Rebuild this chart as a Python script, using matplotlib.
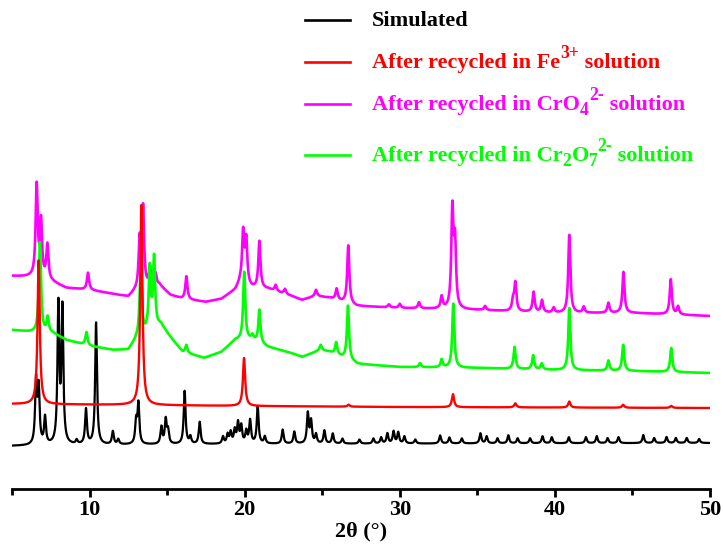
import numpy as np
import matplotlib
matplotlib.use("Agg")
import matplotlib.pyplot as plt
from matplotlib.lines import Line2D

plt.rcParams['font.family'] = ['Liberation Serif', 'DejaVu Serif']
plt.rcParams['font.weight'] = 'bold'

# ---- Simulated pattern (peak list) ----
sim_pos = [6.55, 6.72, 7.13, 7.99, 8.25, 9.17, 9.77, 10.42, 11.5, 11.85, 13.0, 13.15,
           14.63, 14.91, 15.06, 16.13, 16.5, 17.1, 18.6, 18.9, 19.1, 19.36, 19.57, 19.78,
           20.1, 20.35, 20.84, 21.3, 22.45, 23.2, 24.07, 24.28, 24.6, 25.14, 25.68, 26.3,
           27.4, 28.3, 28.8, 29.2, 29.6, 29.9, 30.3, 31.0, 32.6, 33.2, 34.0, 35.2, 35.6,
           36.3, 37.0, 37.6, 38.4, 39.2, 39.8, 40.9, 42.0, 42.7, 43.4, 44.1, 45.7, 46.4,
           47.2, 47.8, 48.5, 49.3]
sim_int = [63, 55, 27, 138, 134, 4, 35, 122, 13, 5, 22, 40,
           17, 24, 13, 53, 7, 22, 7, 9, 11, 13, 20, 17,
           12, 23, 37, 7, 14, 12, 30, 22, 9, 13, 10, 5,
           4, 5, 6, 10, 12, 11, 7, 4, 8, 6, 5, 10, 7,
           5, 8, 5, 5, 7, 6, 6, 6, 7, 5, 6, 8, 5,
           6, 5, 5, 4]
sim_bg_pos = [5, 10, 20, 50]
sim_bg = [43, 44, 45, 46]

# ---- After recycling in Fe3+ ----
fe_pos = [6.72, 13.34, 19.96, 26.7, 33.43, 37.45, 40.93, 44.4, 47.5]
fe_int = [144, 200, 48, 2, 13, 4, 6, 3, 2]
fe_bg_pos = [5, 13, 20, 30, 50]
fe_bg = [85, 84, 83, 82, 81]

# ---- After recycling in CrO4 2- ----
cro4_pos = [6.59, 6.87, 7.28, 9.9, 13.23, 13.45, 13.9, 14.25, 16.24, 19.9, 20.1, 20.95,
            22.0, 22.6, 24.6, 25.93, 26.68, 29.3, 30.0, 31.24, 32.7, 33.39, 33.56, 35.5,
            37.3, 37.45, 38.63, 39.17, 39.92, 40.93, 41.86, 43.45, 44.42, 47.47, 47.94]
cro4_int = [92, 56, 35, 17, 48, 80, 18, 12, 23, 51, 44, 47,
            6, 5, 6, 11, 58, 3, 4, 6, 12, 97, 63, 4,
            10, 28, 20, 12, 5, 78, 6, 10, 41, 35, 8]
cro4_bg_pos = [5, 6.2, 7.6, 8.5, 10, 11.5, 12.5, 12.9, 14.5, 15.2, 16, 17.5, 18.5, 19.4,
               19.7, 20.5, 21.5, 23, 23.7, 24.6, 25.5, 27.2, 30, 35, 40, 45, 50]
cro4_bg = [213, 212, 207, 201, 199, 195, 192, 197, 204, 194, 190, 187, 190, 199,
           206, 201, 200, 193, 189, 193, 191, 183, 181, 179, 176, 176, 173]

# ---- After recycling in Cr2O7 2- ----
cr2o7_pos = [6.8, 7.3, 9.8, 13.3, 13.88, 14.16, 16.24, 19.97, 20.5, 20.95, 24.9, 25.9,
             26.66, 31.3, 32.7, 33.45, 37.4, 38.6, 39.15, 40.93, 43.45, 44.4, 47.5]
cr2o7_int = [90, 15, 13, 76, 62, 70, 8, 68, 4, 33, 5, 12,
             54, 4, 8, 64, 22, 14, 6, 62, 10, 26, 24]
cr2o7_bg_pos = [5, 6.2, 7.6, 8.5, 10, 11.5, 12.5, 13, 14.6, 15.2, 16, 17.4, 18.5, 19.4,
                20.5, 21.5, 23, 23.7, 24.9, 25.5, 27.3, 30, 35, 40, 45, 50]
cr2o7_bg = [159, 157, 156, 149, 143, 139, 139, 149, 164, 152, 137, 131, 137, 149,
            149, 142, 136, 132, 139, 137, 125, 122, 121, 119, 118, 116]

# legend entries as (text, style) segments: 'n' normal, 'sup' superscript, 'sub' subscript
labels = [
    [("Simulated", "n")],
    [("After recycled in Fe", "n"), ("3+", "sup"), (" solution", "n")],
    [("After recycled in CrO", "n"), ("4", "sub"), ("2-", "sup"), (" solution", "n")],
    [("After recycled in Cr", "n"), ("2", "sub"), ("O", "n"), ("7", "sub"),
     ("2-", "sup"), (" solution", "n")],
]
colors = ["#000000", "#ff0000", "#ff00ff", "#00ff00"]


def pattern(theta, pos, inten, width, bg_pos, bg):
    y = np.interp(theta, bg_pos, bg).astype(float)
    for p, h in zip(pos, inten):
        y += h / (1.0 + ((theta - p) / (width / 2.0)) ** 2)
    return y


theta = np.linspace(5, 50, 6000)
y_sim = pattern(theta, sim_pos, sim_int, 0.14, sim_bg_pos, sim_bg)
y_fe = pattern(theta, fe_pos, fe_int, 0.17, fe_bg_pos, fe_bg)
y_cro4 = pattern(theta, cro4_pos, cro4_int, 0.16, cro4_bg_pos, cro4_bg)
y_cr2o7 = pattern(theta, cr2o7_pos, cr2o7_int, 0.16, cr2o7_bg_pos, cr2o7_bg)

W, H = 724, 547
fig = plt.figure(figsize=(W / 100, H / 100), dpi=100)
ax = fig.add_axes([12 / W, 1 - 489 / H, (710 - 12) / W, 489 / H])

ax.plot(theta, y_sim, color=colors[0], lw=1.6, zorder=2)
ax.plot(theta, y_cro4, color=colors[2], lw=1.9, zorder=3)
ax.plot(theta, y_cr2o7, color=colors[3], lw=1.9, zorder=4)
ax.plot(theta, y_fe, color=colors[1], lw=1.7, zorder=5)

ax.set_xlim(5, 50)
ax.set_ylim(0, 489)
for s in ['top', 'right', 'left']:
    ax.spines[s].set_visible(False)
ax.spines['bottom'].set_linewidth(2.0)
ax.set_yticks([])
ax.set_xticks([10, 20, 30, 40, 50])
ax.set_xticks([5, 15, 25, 35, 45], minor=True)
ax.tick_params(axis='x', which='major', direction='out', length=6, width=2.0,
               labelsize=16, pad=2)
ax.tick_params(axis='x', which='minor', direction='out', length=4, width=2.0)
for t in ax.get_xticklabels():
    t.set_fontweight('bold')
ax.set_xlabel("2θ (°)", fontsize=16, fontweight='bold', va='center')
ax.xaxis.set_label_coords(0.5, -(531 - 489) / 489)
ax.patch.set_visible(False)

# legend drawn in figure pixel coordinates
renderer = fig.canvas.get_renderer()
fs = 16
leg_y = [20, 62, 104, 155]
for segs, col, yy in zip(labels, colors, leg_y):
    fig.add_artist(Line2D([305 / W, 350 / W], [1 - yy / H, 1 - yy / H],
                          color=col, lw=1.9, transform=fig.transFigure))
    x = 372.0
    base = yy + 6
    for txt, kind in segs:
        if kind == "sup":
            size, dy = fs * 0.8, -10
        elif kind == "sub":
            size, dy = fs * 0.8, 5
        else:
            size, dy = fs, 0
        t = fig.text(x / W, 1 - (base + dy) / H, txt, color=col, fontsize=size,
                     fontweight='bold', va='baseline', ha='left')
        x += t.get_window_extent(renderer).width

fig.savefig("out.png", dpi=100)
